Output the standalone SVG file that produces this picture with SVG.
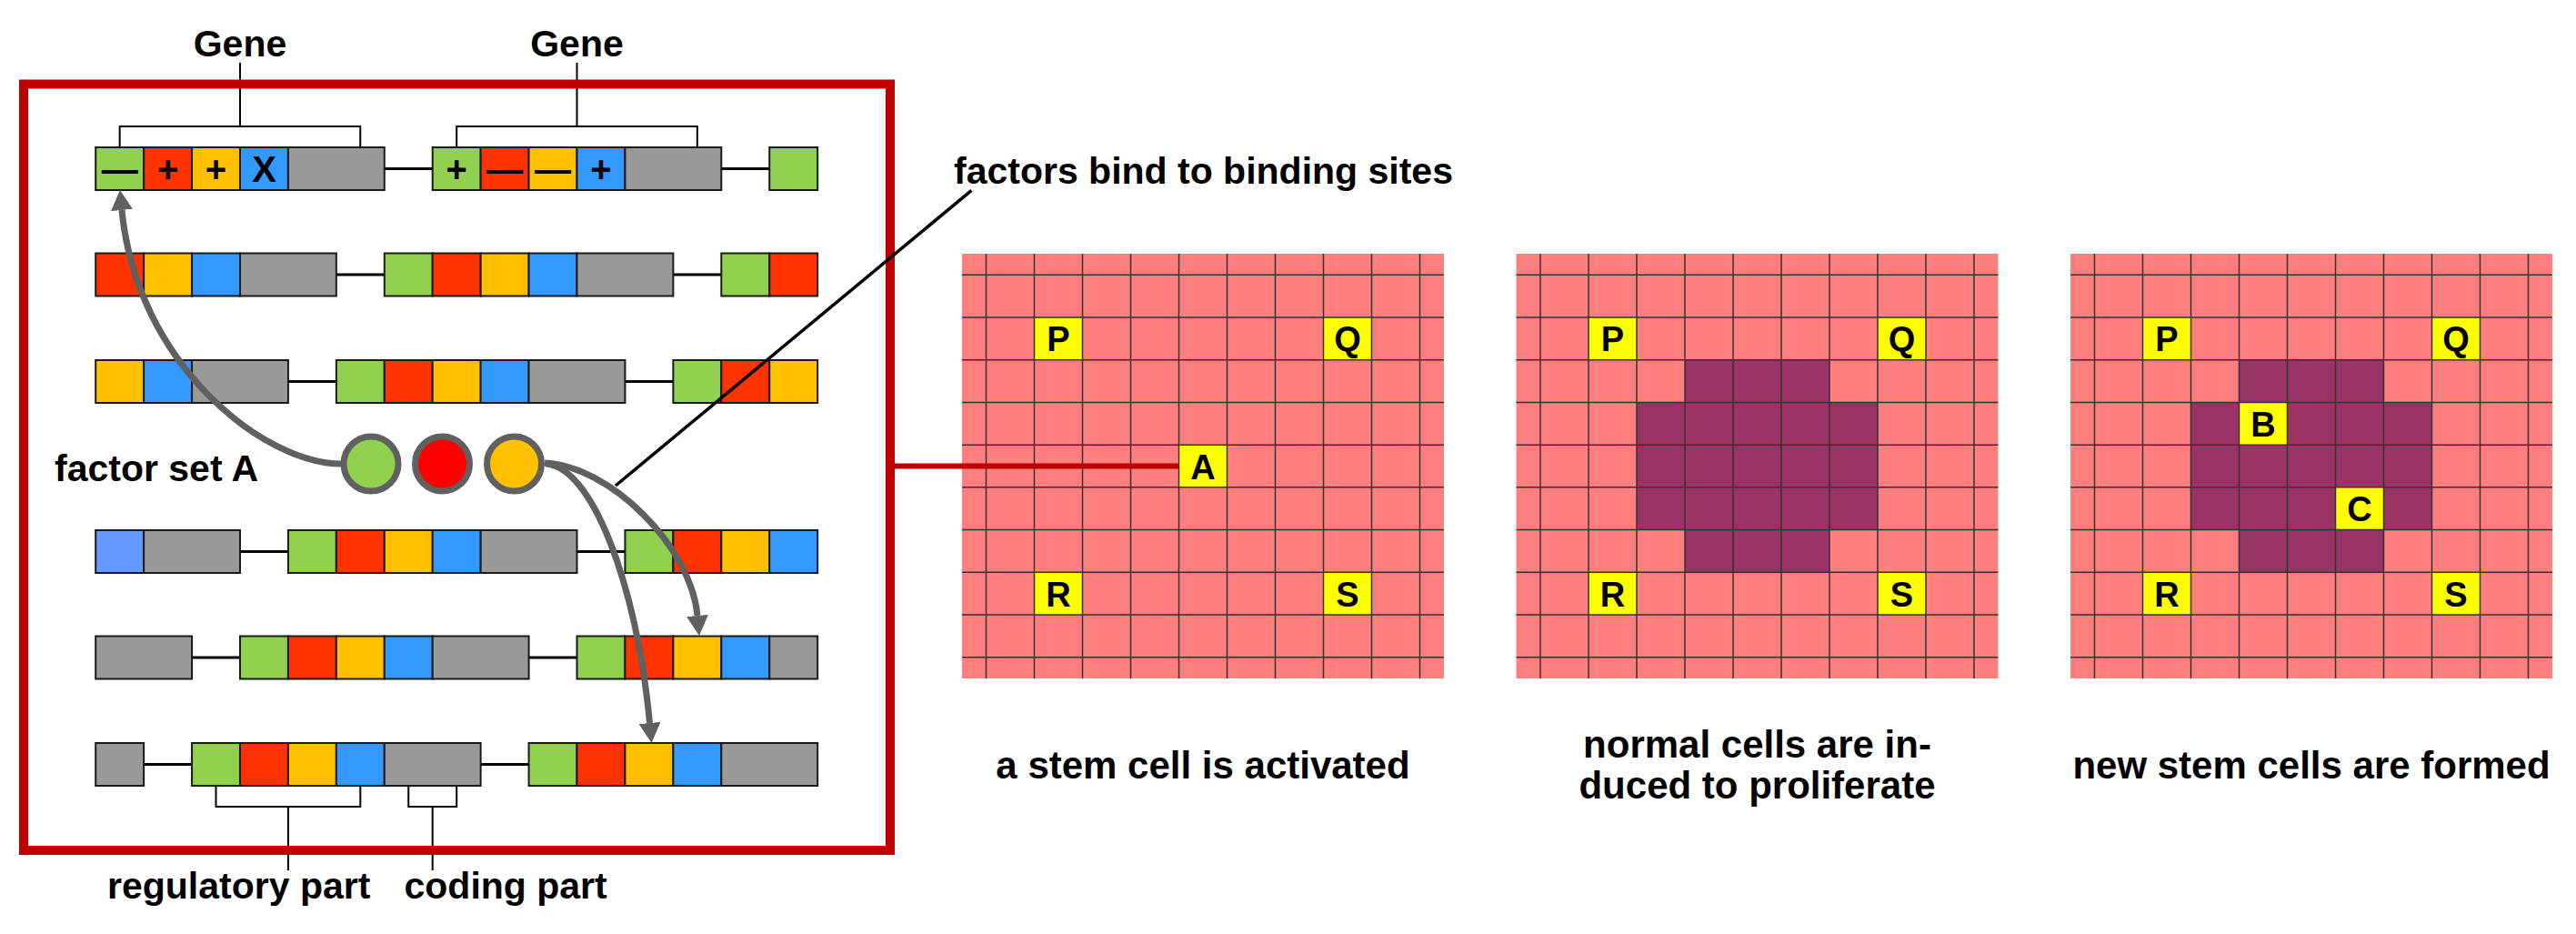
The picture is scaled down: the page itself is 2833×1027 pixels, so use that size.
<svg xmlns="http://www.w3.org/2000/svg" width="2833" height="1027" viewBox="0 0 2833 1027">
<style>
.t{font-family:"Liberation Sans",Arial,sans-serif;font-weight:bold;font-size:41px;fill:#000}
.cap{font-size:42px;text-anchor:middle}
.mid{text-anchor:middle}
.sym{font-size:40px;text-anchor:middle}
.lt{font-size:38px;text-anchor:middle}
.c rect{stroke:#1a1a1a;stroke-width:2}
.g{fill:#92D050}.r{fill:#FF3300}.y{fill:#FFC000}.b{fill:#3399FF}.k{fill:#999999}.lb{fill:#6699FF}
.ln{stroke:#000;stroke-width:3}
.br{fill:none;stroke:#000;stroke-width:2}
.arr{fill:none;stroke:#606060;stroke-width:7}
.fac{stroke:#606060;stroke-width:7}
.pink{fill:#FF7F7F}.dark{fill:#993366}.yel{fill:#FFFF00}
.gl{fill:none;stroke:#333;stroke-width:1.5}
</style>
<defs>
<marker id="ah" viewBox="0 0 22 24" refX="0" refY="12" markerWidth="22" markerHeight="24" markerUnits="userSpaceOnUse" orient="auto">
<path d="M0 0L22 12L0 24z" fill="#606060"/>
</marker>
<path id="gridlines" d="M26.5 0V467M79.5 0V467M132.5 0V467M185.5 0V467M238.5 0V467M291.5 0V467M344.5 0V467M397.5 0V467M450.5 0V467M503.5 0V467M0 23.35H530M0 70.05H530M0 116.75H530M0 163.45H530M0 210.15H530M0 256.85H530M0 303.55H530M0 350.25H530M0 396.95H530M0 443.65H530"/>
</defs>

<!-- brackets -->
<g id="gene-brackets">
<path class="br" d="M131.67 162V139H396.26V162M264 139V69"/>
<path class="br" d="M502.18 162V139H766.83V162M634.5 139V69"/>
<path class="br" d="M237.5 864V887H396.3V864M316.9 887V957"/>
<path class="br" d="M449.25 864V887H502.2V864M475.7 887V957"/>
</g>

<!-- row 1 -->
<g id="row1" class="c">
<line class="ln" x1="422.78" y1="185.5" x2="475.71" y2="185.5"/>
<line class="ln" x1="793.29" y1="185.5" x2="846.22" y2="185.5"/>
<rect class="g" x="105.2" y="162" width="52.93" height="47"/>
<rect class="r" x="158.13" y="162" width="52.93" height="47"/>
<rect class="y" x="211.06" y="162" width="52.93" height="47"/>
<rect class="b" x="263.99" y="162" width="52.93" height="47"/>
<rect class="k" x="316.92" y="162" width="105.86" height="47"/>
<rect class="g" x="475.71" y="162" width="52.93" height="47"/>
<rect class="r" x="528.64" y="162" width="52.93" height="47"/>
<rect class="y" x="581.57" y="162" width="52.93" height="47"/>
<rect class="b" x="634.5" y="162" width="52.93" height="47"/>
<rect class="k" x="687.43" y="162" width="105.86" height="47"/>
<rect class="g" x="846.22" y="162" width="52.93" height="47"/>
<text class="t sym" x="131.67" y="200">—</text>
<text class="t sym" x="184.6" y="200">+</text>
<text class="t sym" x="237.5" y="200">+</text>
<text class="t sym" x="290.5" y="200">X</text>
<text class="t sym" x="502.2" y="200">+</text>
<text class="t sym" x="555.1" y="200">—</text>
<text class="t sym" x="608" y="200">—</text>
<text class="t sym" x="661" y="200">+</text>
</g>

<!-- row 2 -->
<g id="row2" class="c">
<line class="ln" x1="369.85" y1="302" x2="422.78" y2="302"/>
<line class="ln" x1="740.36" y1="302" x2="793.29" y2="302"/>
<rect class="r" x="105.2" y="278.5" width="52.93" height="47"/>
<rect class="y" x="158.13" y="278.5" width="52.93" height="47"/>
<rect class="b" x="211.06" y="278.5" width="52.93" height="47"/>
<rect class="k" x="263.99" y="278.5" width="105.86" height="47"/>
<rect class="g" x="422.78" y="278.5" width="52.93" height="47"/>
<rect class="r" x="475.71" y="278.5" width="52.93" height="47"/>
<rect class="y" x="528.64" y="278.5" width="52.93" height="47"/>
<rect class="b" x="581.57" y="278.5" width="52.93" height="47"/>
<rect class="k" x="634.5" y="278.5" width="105.86" height="47"/>
<rect class="g" x="793.29" y="278.5" width="52.93" height="47"/>
<rect class="r" x="846.22" y="278.5" width="52.93" height="47"/>
</g>

<!-- row 3 -->
<g id="row3" class="c">
<line class="ln" x1="316.92" y1="419.5" x2="369.85" y2="419.5"/>
<line class="ln" x1="687.43" y1="419.5" x2="740.36" y2="419.5"/>
<rect class="y" x="105.2" y="396" width="52.93" height="47"/>
<rect class="b" x="158.13" y="396" width="52.93" height="47"/>
<rect class="k" x="211.06" y="396" width="105.86" height="47"/>
<rect class="g" x="369.85" y="396" width="52.93" height="47"/>
<rect class="r" x="422.78" y="396" width="52.93" height="47"/>
<rect class="y" x="475.71" y="396" width="52.93" height="47"/>
<rect class="b" x="528.64" y="396" width="52.93" height="47"/>
<rect class="k" x="581.57" y="396" width="105.86" height="47"/>
<rect class="g" x="740.36" y="396" width="52.93" height="47"/>
<rect class="r" x="793.29" y="396" width="52.93" height="47"/>
<rect class="y" x="846.22" y="396" width="52.93" height="47"/>
</g>

<!-- row 4 -->
<g id="row4" class="c">
<line class="ln" x1="263.99" y1="606.5" x2="316.92" y2="606.5"/>
<line class="ln" x1="634.5" y1="606.5" x2="687.43" y2="606.5"/>
<rect class="lb" x="105.2" y="583" width="52.93" height="47"/>
<rect class="k" x="158.13" y="583" width="105.86" height="47"/>
<rect class="g" x="316.92" y="583" width="52.93" height="47"/>
<rect class="r" x="369.85" y="583" width="52.93" height="47"/>
<rect class="y" x="422.78" y="583" width="52.93" height="47"/>
<rect class="b" x="475.71" y="583" width="52.93" height="47"/>
<rect class="k" x="528.64" y="583" width="105.86" height="47"/>
<rect class="g" x="687.43" y="583" width="52.93" height="47"/>
<rect class="r" x="740.36" y="583" width="52.93" height="47"/>
<rect class="y" x="793.29" y="583" width="52.93" height="47"/>
<rect class="b" x="846.22" y="583" width="52.93" height="47"/>
</g>

<!-- row 5 -->
<g id="row5" class="c">
<line class="ln" x1="211.06" y1="723" x2="263.99" y2="723"/>
<line class="ln" x1="581.57" y1="723" x2="634.5" y2="723"/>
<rect class="k" x="105.2" y="699.5" width="105.86" height="47"/>
<rect class="g" x="263.99" y="699.5" width="52.93" height="47"/>
<rect class="r" x="316.92" y="699.5" width="52.93" height="47"/>
<rect class="y" x="369.85" y="699.5" width="52.93" height="47"/>
<rect class="b" x="422.78" y="699.5" width="52.93" height="47"/>
<rect class="k" x="475.71" y="699.5" width="105.86" height="47"/>
<rect class="g" x="634.5" y="699.5" width="52.93" height="47"/>
<rect class="r" x="687.43" y="699.5" width="52.93" height="47"/>
<rect class="y" x="740.36" y="699.5" width="52.93" height="47"/>
<rect class="b" x="793.29" y="699.5" width="52.93" height="47"/>
<rect class="k" x="846.22" y="699.5" width="52.93" height="47"/>
</g>

<!-- row 6 -->
<g id="row6" class="c">
<line class="ln" x1="158.13" y1="840.5" x2="211.06" y2="840.5"/>
<line class="ln" x1="528.64" y1="840.5" x2="581.57" y2="840.5"/>
<rect class="k" x="105.2" y="817" width="52.93" height="47"/>
<rect class="g" x="211.06" y="817" width="52.93" height="47"/>
<rect class="r" x="263.99" y="817" width="52.93" height="47"/>
<rect class="y" x="316.92" y="817" width="52.93" height="47"/>
<rect class="b" x="369.85" y="817" width="52.93" height="47"/>
<rect class="k" x="422.78" y="817" width="105.86" height="47"/>
<rect class="g" x="581.57" y="817" width="52.93" height="47"/>
<rect class="r" x="634.5" y="817" width="52.93" height="47"/>
<rect class="y" x="687.43" y="817" width="52.93" height="47"/>
<rect class="b" x="740.36" y="817" width="52.93" height="47"/>
<rect class="k" x="793.29" y="817" width="105.86" height="47"/>
</g>

<!-- frame -->
<g id="frame">
<rect x="26" y="92.5" width="953" height="842.5" fill="none" stroke="#C00000" stroke-width="10"/>
</g>

<!-- grids -->
<g id="grid-activated" transform="translate(1058 279)">
<rect class="pink" width="530" height="467"/>
<rect class="yel" x="79.5" y="70.05" width="53" height="46.7"/>
<rect class="yel" x="397.5" y="70.05" width="53" height="46.7"/>
<rect class="yel" x="79.5" y="350.25" width="53" height="46.7"/>
<rect class="yel" x="397.5" y="350.25" width="53" height="46.7"/>
<rect class="yel" x="238.5" y="210.15" width="53" height="46.7"/>
<use href="#gridlines" class="gl"/>
<text class="t lt" x="106" y="107.4">P</text>
<text class="t lt" x="424" y="107.4">Q</text>
<text class="t lt" x="106" y="387.6">R</text>
<text class="t lt" x="424" y="387.6">S</text>
<text class="t lt" x="265" y="247.5">A</text>
</g>

<g id="grid-proliferate" transform="translate(1667.5 279)">
<rect class="pink" width="530" height="467"/>
<rect class="dark" x="185.5" y="116.75" width="159" height="46.7"/>
<rect class="dark" x="132.5" y="163.45" width="265" height="140.1"/>
<rect class="dark" x="185.5" y="303.55" width="159" height="46.7"/>
<rect class="yel" x="79.5" y="70.05" width="53" height="46.7"/>
<rect class="yel" x="397.5" y="70.05" width="53" height="46.7"/>
<rect class="yel" x="79.5" y="350.25" width="53" height="46.7"/>
<rect class="yel" x="397.5" y="350.25" width="53" height="46.7"/>
<use href="#gridlines" class="gl"/>
<text class="t lt" x="106" y="107.4">P</text>
<text class="t lt" x="424" y="107.4">Q</text>
<text class="t lt" x="106" y="387.6">R</text>
<text class="t lt" x="424" y="387.6">S</text>
</g>

<g id="grid-formed" transform="translate(2277 279)">
<rect class="pink" width="530" height="467"/>
<rect class="dark" x="185.5" y="116.75" width="159" height="46.7"/>
<rect class="dark" x="132.5" y="163.45" width="265" height="140.1"/>
<rect class="dark" x="185.5" y="303.55" width="159" height="46.7"/>
<rect class="yel" x="79.5" y="70.05" width="53" height="46.7"/>
<rect class="yel" x="397.5" y="70.05" width="53" height="46.7"/>
<rect class="yel" x="79.5" y="350.25" width="53" height="46.7"/>
<rect class="yel" x="397.5" y="350.25" width="53" height="46.7"/>
<rect class="yel" x="185.5" y="163.45" width="53" height="46.7"/>
<rect class="yel" x="291.5" y="256.85" width="53" height="46.7"/>
<use href="#gridlines" class="gl"/>
<text class="t lt" x="106" y="107.4">P</text>
<text class="t lt" x="424" y="107.4">Q</text>
<text class="t lt" x="106" y="387.6">R</text>
<text class="t lt" x="424" y="387.6">S</text>
<text class="t lt" x="212" y="200.8">B</text>
<text class="t lt" x="318" y="294.2">C</text>
</g>

<!-- connectors -->
<g id="connectors">
<path class="arr" d="M375 510C290 510 150 400 134 231" marker-end="url(#ah)"/>
<path class="arr" d="M599 509C670 512 760 600 767 677" marker-end="url(#ah)"/>
<path class="arr" d="M600 510C650 512 700 640 714.5 795" marker-end="url(#ah)"/>
<line x1="1068.4" y1="209.4" x2="677" y2="534" stroke="#000" stroke-width="3.5"/>
<line x1="984" y1="512.5" x2="1296.5" y2="512.5" stroke="#C00000" stroke-width="6"/>
</g>

<!-- factors -->
<g id="factor-set-A">
<circle class="fac" cx="408" cy="510" r="30" fill="#92D050"/>
<circle class="fac" cx="486.5" cy="510" r="30" fill="#FF0000"/>
<circle class="fac" cx="565.5" cy="510" r="30" fill="#FFC000"/>
</g>

<!-- labels -->
<g id="labels">
<text class="t mid" x="264" y="62">Gene</text>
<text class="t mid" x="634.5" y="62">Gene</text>
<text class="t" x="60" y="529">factor set A</text>
<text class="t" x="118" y="988">regulatory part</text>
<text class="t" x="444.5" y="988">coding part</text>
<text class="t" x="1049" y="202">factors bind to binding sites</text>
<text class="t cap" x="1323" y="856">a stem cell is activated</text>
<text class="t cap" x="1932.5" y="833">normal cells are in-</text>
<text class="t cap" x="1932.5" y="878">duced to proliferate</text>
<text class="t cap" x="2542" y="856">new stem cells are formed</text>
</g>
</svg>
